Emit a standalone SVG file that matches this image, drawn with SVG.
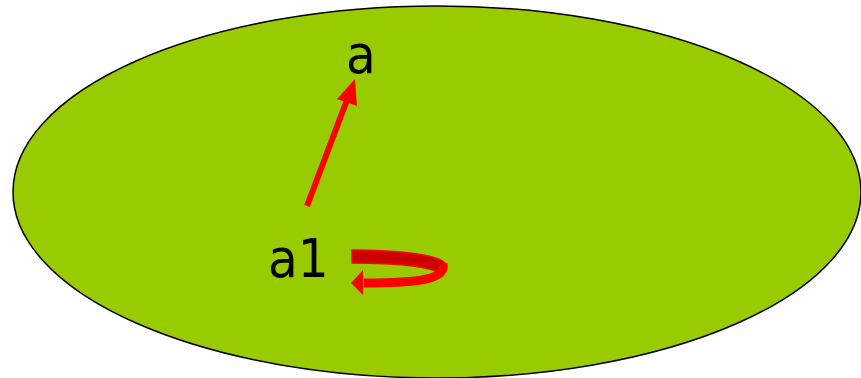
<svg xmlns="http://www.w3.org/2000/svg" width="861" height="378" viewBox="0 0 861 378">
<style>
.lbl{font-family:"DejaVu Sans Condensed","DejaVu Sans",Verdana,sans-serif;font-stretch:condensed;font-size:54px;fill:#000}
</style>
<rect width="861" height="378" fill="#fff"/>
<g id="set">
<ellipse cx="437" cy="192" rx="424" ry="186" fill="#99cc00" stroke="#000" stroke-width="1.5"/>
</g>
<g id="node-a"><text class="lbl" x="346" y="73">a</text></g>
<g id="node-a1"><text class="lbl" x="268" y="277">a1</text></g>
<g id="connectors">
<line x1="307" y1="206" x2="347" y2="100" stroke="#ff0000" stroke-width="6"/>
<polygon points="355,79 337,99 357,106" fill="#ff0000"/>
<path d="M352,250 L352,263 C392,263 428,265 443,274 L445,263 C438,255 400,250 352,250 Z" fill="#cc0000" stroke="#ff0000" stroke-width="1.5"/>
<path d="M443,264 C446,279 420,283 364,283" fill="none" stroke="#ff0000" stroke-width="9"/>
<polygon points="351,283 363,270 363,295" fill="#ff0000"/>
</g>
</svg>
